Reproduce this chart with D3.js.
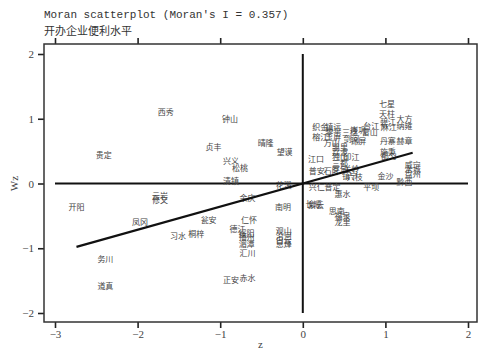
<!DOCTYPE html>
<html>
<head>
<meta charset="utf-8">
<script src="https://cdn.jsdelivr.net/npm/d3@7"></script>
<style>
  body { margin: 0; background: #fff; }
</style>
</head>
<body>
<script>
var moranI = 0.357;
var titleText = "Moran scatterplot (Moran's I = 0.357)";
var subTitle = "开办企业便利水平";

var names = ["西秀","钟山","贵定","贞丰","兴义","松桃","晴隆","望谟","清镇","云岩","修文","开阳","余庆","南明","花溪",
  "凤冈","瓮安","仁怀","习水","桐梓","德江","绥阳","播州","湄潭","汇川","赤水","正安","务川","道真",
  "观山","沿河","白云","息烽",
  "七星","天柱","大方","纳雍","织金","榕江","镇远","黎平","玉屏","万山","三穗","岑巩","剑河","锦屏",
  "台江","雷山","碧江","麻江","丹寨","赫章","施秉","都匀",
  "凯里","荔波","独山","三都","罗甸","印江","石阡","镇宁","关岭","六枝","江口","普安",
  "兴仁","普定","惠水","平坝","金沙","黔西","威宁","水城","盘州","长顺","紫云","思南","福泉","龙里"];

var zVals = [-1.66,-0.88,-2.41,-1.08,-0.87,-0.76,-0.45,-0.22,-0.87,-1.73,-1.73,-2.74,-0.67,-0.24,-0.23,
  -1.97,-1.14,-0.65,-1.51,-1.29,-0.79,-0.68,-0.68,-0.68,-0.67,-0.67,-0.87,-2.39,-2.39,
  -0.23,-0.23,-0.23,-0.23,
  1.02,1.02,1.23,1.23,0.21,0.21,0.37,0.37,0.37,0.35,0.57,0.67,0.59,0.67,
  0.83,0.81,1.03,1.04,1.03,1.23,1.03,1.04,
  0.45,0.45,0.45,0.45,0.45,0.59,0.35,0.57,0.59,0.63,0.16,0.17,
  0.17,0.36,0.48,0.83,1.00,1.23,1.33,1.33,1.33,0.13,0.16,0.41,0.48,0.48];

var wzVals = [1.10,1.00,0.43,0.56,0.34,0.23,0.63,0.49,0.03,-0.19,-0.26,-0.37,-0.22,-0.37,-0.03,
  -0.60,-0.56,-0.57,-0.82,-0.79,-0.70,-0.76,-0.83,-0.93,-1.08,-1.47,-1.50,-1.17,-1.58,
  -0.73,-0.82,-0.87,-0.94,
  1.22,1.07,0.99,0.88,0.87,0.71,0.87,0.79,0.71,0.62,0.80,0.82,0.68,0.66,
  0.88,0.79,0.94,0.87,0.66,0.66,0.49,0.42,
  0.56,0.48,0.40,0.31,0.22,0.40,0.19,0.12,0.22,0.09,0.37,0.19,
  -0.06,-0.06,-0.17,-0.06,0.11,0.02,0.29,0.22,0.14,-0.32,-0.34,-0.43,-0.51,-0.60];

var xTicks = [-3, -2, -1, 0, 1, 2];
var yTicks = [-2, -1, 0, 1, 2];

var width = 480;
var height = 351;
var frame = { left: 44, top: 44, right: 477, bottom: 322 };

var points = names.map(function(n, i) {
  return { name: n, z: zVals[i], wz: wzVals[i] };
});

var x = d3.scaleLinear().domain([-3, 2]).range([55, 468]);
var y = d3.scaleLinear().domain([-2, 2]).range([313, 54]);

var svg = d3.select('body')
  .append('svg')
  .attr('width', width)
  .attr('height', height);

// titles
svg.append('text')
  .text(titleText)
  .attr('x', 44)
  .attr('y', 18)
  .attr('font-family', 'Liberation Mono, monospace')
  .attr('font-size', '11px')
  .attr('fill', '#333');

svg.append('text')
  .text(subTitle)
  .attr('x', 44)
  .attr('y', 35)
  .attr('font-family', 'Noto Sans CJK SC')
  .attr('font-size', '11px')
  .attr('fill', '#333');

// axes
var fmt = d3.format('d');
var bottomAxis = d3.axisBottom(x).tickValues(xTicks).tickSize(6).tickPadding(2).tickFormat(fmt);
var topAxis = d3.axisTop(x).tickValues(xTicks).tickSize(6).tickFormat('');
var leftAxis = d3.axisLeft(y).tickValues(yTicks).tickSize(6).tickPadding(4).tickFormat(fmt);

var gb = svg.append('g').attr('transform', 'translate(0,' + frame.bottom + ')').call(bottomAxis);
var gt = svg.append('g').attr('transform', 'translate(0,' + frame.top + ')').call(topAxis);
var gl = svg.append('g').attr('transform', 'translate(' + frame.left + ',0)').call(leftAxis);

[gb, gt, gl].forEach(function(g) {
  g.select('.domain').remove();
  g.selectAll('.tick line').attr('stroke', '#222').attr('stroke-width', 1.6);
  g.selectAll('.tick text')
    .attr('font-family', 'Liberation Serif, serif')
    .attr('font-size', '11px')
    .attr('fill', '#444');
});

// frame
svg.append('rect')
  .attr('x', frame.left)
  .attr('y', frame.top)
  .attr('width', frame.right - frame.left)
  .attr('height', frame.bottom - frame.top)
  .attr('fill', 'none')
  .attr('stroke', '#333')
  .attr('stroke-width', 1.5);

// axis titles
svg.append('text')
  .text('z')
  .attr('x', (frame.left + frame.right) / 2)
  .attr('y', 348)
  .attr('text-anchor', 'middle')
  .attr('font-family', 'Liberation Serif, serif')
  .attr('font-size', '11px')
  .attr('fill', '#444');

svg.append('text')
  .text('Wz')
  .attr('transform', 'translate(18,' + y(0) + ') rotate(-90)')
  .attr('text-anchor', 'middle')
  .attr('font-family', 'Liberation Serif, serif')
  .attr('font-size', '11px')
  .attr('fill', '#444');

// reference lines at 0
svg.append('line')
  .attr('x1', x(-3)).attr('x2', x(2))
  .attr('y1', y(0)).attr('y2', y(0))
  .attr('stroke', '#111').attr('stroke-width', 2);

svg.append('line')
  .attr('x1', x(0)).attr('x2', x(0))
  .attr('y1', y(2)).attr('y2', y(-2))
  .attr('stroke', '#111').attr('stroke-width', 2);

// labels (no markers, just names at each point)
svg.selectAll('text.lab')
  .data(points)
  .enter()
  .append('text')
  .classed('lab', true)
  .text(function(d) { return d.name; })
  .attr('x', function(d) { return x(d.z); })
  .attr('y', function(d) { return y(d.wz); })
  .attr('dy', '0.35em')
  .attr('text-anchor', 'middle')
  .attr('font-family', 'Noto Sans CJK SC')
  .attr('font-size', '8px')
  .attr('fill', '#444');

// fitted line, slope = Moran's I
var zExtent = d3.extent(zVals);
svg.append('line')
  .attr('x1', x(zExtent[0])).attr('y1', y(zExtent[0] * moranI))
  .attr('x2', x(zExtent[1])).attr('y2', y(zExtent[1] * moranI))
  .attr('stroke', '#111').attr('stroke-width', 2.2);
</script>
</body>
</html>
